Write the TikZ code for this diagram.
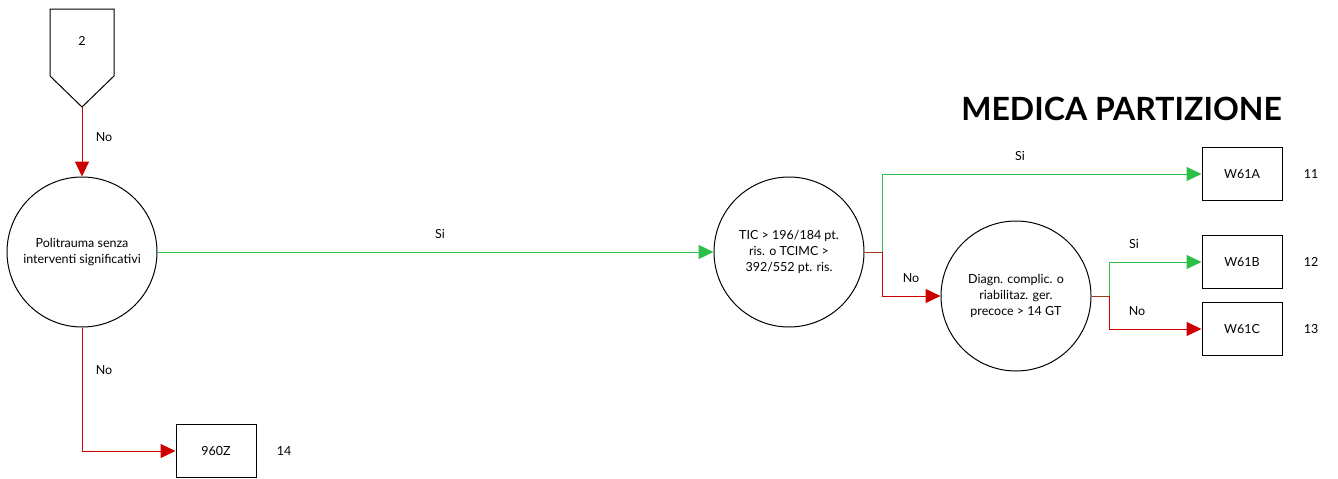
\documentclass[tikz,border=0pt]{standalone}
\usepackage{fontspec}
\setmainfont{Lato}
\usetikzlibrary{arrows.meta}

\definecolor{sigreen}{RGB}{46,190,74}
\definecolor{nored}{RGB}{204,0,0}
\definecolor{stub}{RGB}{160,57,31}

\tikzset{
	quest/.style={draw,circle,line width=1pt,minimum size=150pt,inner sep=0pt,align=center,font=\fontsize{12.5}{16}\selectfont},
	leaf/.style={draw,line width=1pt,minimum width=80pt,minimum height=53pt,inner sep=0pt,font=\fontsize{12.5}{14}\selectfont},
	lab/.style={inner sep=0pt,font=\fontsize{12.5}{14}\selectfont},
	yes/.style={draw=sigreen,line width=1pt,-{Triangle[length=15pt,width=14pt,color=sigreen]}},
	no/.style={draw=nored,line width=1pt,-{Triangle[length=15pt,width=14pt,color=nored]}}
}

\begin{document}
\begin{tikzpicture}[x=1pt,y=-1pt]
	\useasboundingbox (0,0) rectangle (1338,479);
	
	% entry from page 2
	\draw[line width=1pt] (50,9) -- (114,9) -- (114,76) -- (82,107) -- (50,76) -- cycle;
	\node[lab] (entry) at (82,41) {2};
	\coordinate (entrytip) at (82,107);
	
	\node[quest] (polit) at (82,252) {Politrauma senza\\interventi significativi};
	\node[quest] (tic) at (789,252) {TIC > 196/184 pt.\\ris. o TCIMC >\\392/552 pt. ris.};
	\node[quest] (diagn) at (1016,296) {Diagn. complic. o\\riabilitaz. ger.\\precoce > 14 GT};
	
	\node[leaf] (z960) at (216,451) {960Z};
	\node[leaf] (w61a) at (1242,174) {W61A};
	\node[leaf] (w61b) at (1242,262) {W61B};
	\node[leaf] (w61c) at (1242,329) {W61C};
	
	\node[lab] (n14) at (284,451) {14};
	\node[lab] (n11) at (1311,174) {11};
	\node[lab] (n12) at (1311,262) {12};
	\node[lab] (n13) at (1311,329) {13};
	
	\node[anchor=east,inner sep=0pt,font=\fontsize{32}{38}\selectfont\bfseries] (title) at (1282,108.5) {MEDICA PARTIZIONE};
	
	% connectors
	\draw[no] (entrytip) -- (polit.north);
	\node[lab] (l1) at (104,137) {No};
	\draw[no] (polit.south) |- (z960.west);
	\node[lab] (l2) at (104,370) {No};
	\draw[yes] (polit.east) -- (tic.west);
	\node[lab] (l3) at (440,234) {Si};
	
	\coordinate (ja) at (882,252);
	\draw[stub,line width=1pt] (tic.east) -- (ja);
	\draw[yes] (ja) |- (w61a.west);
	\node[lab] (l4) at (1020,156) {Si};
	\draw[no] (ja) |- (diagn.west);
	\node[lab] (l5) at (911,278) {No};
	
	\coordinate (jb) at (1109,296);
	\draw[stub,line width=1pt] (diagn.east) -- (jb);
	\draw[yes] (jb) |- (w61b.west);
	\node[lab] (l6) at (1134,244) {Si};
	\draw[no] (jb) |- (w61c.west);
	\node[lab] (l7) at (1137,311) {No};
\end{tikzpicture}
\end{document}
